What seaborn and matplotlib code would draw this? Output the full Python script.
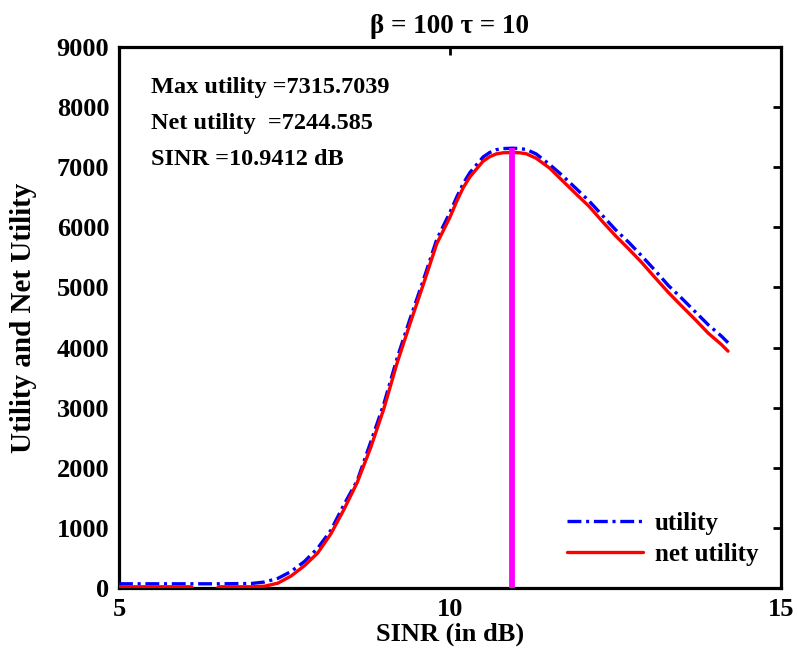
import numpy as np
import pandas as pd
import matplotlib
matplotlib.use("Agg")
import matplotlib.pyplot as plt
import seaborn as sns

# ---- data ----
sinr_db = [5.0, 5.5, 6.0, 6.1, 6.15, 6.45, 6.5, 7.0, 7.2, 7.4, 7.6, 7.8, 8.0, 8.2, 8.4,
           8.6, 8.8, 9.0, 9.2, 9.4, 9.6, 9.8, 10.0, 10.1, 10.2, 10.3, 10.4, 10.5, 10.6,
           10.7, 10.8, 10.94, 11.05, 11.15, 11.3, 11.5, 11.7, 11.9, 12.1, 12.3, 12.5,
           12.7, 12.9, 13.1, 13.3, 13.5, 13.7, 13.9, 14.1, 14.2]
utility = [70, 70, 70, 70, 70, 70, 70, 75, 100, 160, 275, 440, 660, 960, 1390,
           1790, 2420, 3060, 3820, 4490, 5130, 5800, 6250, 6500, 6730, 6910, 7040, 7170, 7245,
           7292, 7310, 7316, 7310, 7296, 7222, 7050, 6860, 6650, 6440, 6200, 5960,
           5750, 5520, 5280, 5030, 4820, 4600, 4380, 4190, 4080]
net_utility = [20, 20, 20, 20, -150, -150, 20, 20, 30, 80, 200, 370, 580, 900, 1310,
               1760, 2330, 2980, 3740, 4410, 5060, 5728, 6170, 6430, 6660, 6838, 6970, 7100, 7175,
               7222, 7240, 7245, 7240, 7225, 7150, 6990, 6775, 6560, 6350, 6100, 5860,
               5640, 5410, 5160, 4915, 4690, 4470, 4240, 4050, 3940]
peak_sinr = 10.9412
max_utility = 7315.7039
net_at_peak = 7244.585
x_ticks = [5, 10, 15]
y_ticks = [0, 1000, 2000, 3000, 4000, 5000, 6000, 7000, 8000, 9000]

sns.set_style("white")
plt.rcParams['font.family'] = ['Liberation Serif', 'DejaVu Serif']
plt.rcParams['font.weight'] = 'bold'
plt.rcParams['lines.scale_dashes'] = False
for k in ['text.color', 'axes.labelcolor', 'xtick.color', 'ytick.color']:
    plt.rcParams[k] = 'black'

fig = plt.figure(figsize=(7.98, 6.66), dpi=100)
ax = fig.add_axes([119/798, 1 - 588/666, (781 - 119)/798, (588 - 47)/666])

df = pd.DataFrame({"sinr": sinr_db, "utility": utility, "net": net_utility})

sns.lineplot(data=df, x="sinr", y="utility", ax=ax, color="#0000FF", lw=2.4,
             label="utility", zorder=3)
sns.lineplot(data=df, x="sinr", y="net", ax=ax, color="#FF0000", lw=2.4,
             label="net utility", zorder=3)
ax.lines[0].set_dashes((10, 3.4, 2.2, 3.4))
ax.vlines(peak_sinr, 0, max_utility, color="#FF00FF", lw=4.2, zorder=4)

ax.set_xlim(5, 15)
ax.set_ylim(0, 9000)
ax.set_xticks(x_ticks)
ax.set_yticks(y_ticks)
ax.tick_params(direction="in", length=6, width=2, top=True, right=True,
               labelsize=19, pad=7, colors="black")
for s in ax.spines.values():
    s.set_linewidth(2.3)
    s.set_color("black")

ax.set_xlabel("SINR (in dB)", fontsize=19, fontweight="bold", labelpad=1, color="black")
ax.set_ylabel("Utility and Net Utility", fontsize=21, fontweight="bold", labelpad=14,
              color="black")
ax.set_title("\u03b2 = 100 \u03c4 = 10", fontsize=19.5, fontweight="bold", pad=10,
             color="black")

ax.text(5.48, 8233, f"Max utility ={max_utility}", fontsize=17.5, fontweight="bold")
ax.text(5.48, 7633, f"Net utility  ={net_at_peak}", fontsize=17.5, fontweight="bold")
ax.text(5.48, 7033, f"SINR ={peak_sinr} dB", fontsize=17.5, fontweight="bold")

leg = ax.legend(loc="lower right", frameon=False, fontsize=18, handlelength=3.06,
                handletextpad=0.48, borderaxespad=0.5, labelspacing=0.3)
for t in leg.get_texts():
    t.set_fontweight("bold")
    t.set_color("black")

fig.savefig("out.png", dpi=100)
